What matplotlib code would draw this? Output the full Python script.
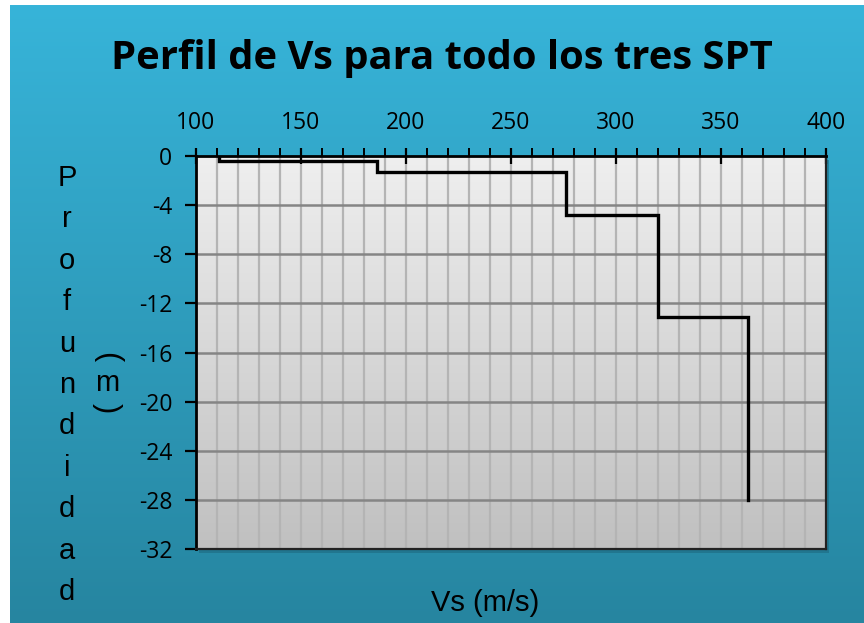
import numpy as np
import matplotlib
matplotlib.use("Agg")
import matplotlib.pyplot as plt
from matplotlib.colors import LinearSegmentedColormap
from matplotlib.ticker import MultipleLocator

plt.rcParams["axes.unicode_minus"] = False

# Data
vs_layers = [111, 186, 276, 320, 363]          # m/s
depth_bounds = [0, -0.4, -1.3, -4.8, -13.1, -28.0]  # m
x_ticks = [100, 150, 200, 250, 300, 350, 400]
y_ticks = [0, -4, -8, -12, -16, -20, -24, -28, -32]

title = "Perfil de Vs para todo los tres SPT"
xlabel = "Vs (m/s)"
ylabel_letters = list("Profundidad")

# build step profile from the layer arrays
px, py = [], []
for i, v in enumerate(vs_layers):
    px += [v, v]
    py += [depth_bounds[i], depth_bounds[i + 1]]

W, H = 864, 623
fig = plt.figure(figsize=(W / 100, H / 100), dpi=100)
fig.patch.set_facecolor("white")

# blue gradient background
bg = fig.add_axes([10 / W, 0, 1 - 10 / W, 1 - 5 / H], zorder=-10)
bg_cmap = LinearSegmentedColormap.from_list("bg", ["#37b4d9", "#2685a0"])
bg.imshow(np.linspace(0, 1, 256).reshape(-1, 1), aspect="auto", cmap=bg_cmap,
          extent=[0, 1, 0, 1], origin="upper")
bg.set_axis_off()

L, R, T, B = 196, 826, 156, 549
ax = fig.add_axes([L / W, 1 - B / H, (R - L) / W, (B - T) / H])

# shadow
sh = fig.add_axes([(L + 3) / W, 1 - (B + 4) / H, (R - L) / W, (B - T) / H], zorder=-5)
sh.set_facecolor("#1d6a80")
sh.patch.set_alpha(0.6)
sh.set_xticks([]); sh.set_yticks([])
for s in sh.spines.values():
    s.set_visible(False)

plot_cmap = LinearSegmentedColormap.from_list("pl", ["#efefef", "#c0c0c0"])
ax.imshow(np.linspace(0, 1, 256).reshape(-1, 1), aspect="auto", cmap=plot_cmap,
          extent=[100, 400, -32, 0], origin="upper", zorder=0)

ax.set_xlim(100, 400)
ax.set_ylim(-32, 0)
ax.xaxis.tick_top()
ax.set_xticks(x_ticks)
ax.set_yticks(y_ticks)
ax.xaxis.set_minor_locator(MultipleLocator(10))

for xv in np.arange(110, 400, 10):
    ax.axvline(xv, color="#b4b4b4", lw=1.6, zorder=1)
for yv in y_ticks[1:-1]:
    ax.axhline(yv, color="#858585", lw=1.8, zorder=1.1)

ax.plot(px, py, color="black", lw=2.4, zorder=3, solid_joinstyle="miter")

tick_font = "Open Sans"
ax.tick_params(axis="x", which="major", direction="inout", length=12, width=1.6,
               pad=9, labelsize=16.5, colors="black")
ax.tick_params(axis="x", which="minor", direction="out", length=6, width=1.4)
ax.tick_params(axis="y", which="major", direction="out", length=8, width=1.6,
               pad=9, labelsize=16.5)
for lab in ax.get_xticklabels() + ax.get_yticklabels():
    lab.set_fontfamily(tick_font)

for side in ["left", "top"]:
    ax.spines[side].set_linewidth(2.0)
for side in ["right", "bottom"]:
    ax.spines[side].set_linewidth(1.6)
    ax.spines[side].set_color("#222222")

fig.text(442 / W, 1 - 58 / H, title, ha="center", va="center",
         fontsize=28.8, fontweight="bold", fontfamily="Open Sans", color="black")
fig.text(485 / W, 1 - 603 / H, xlabel, ha="center", va="center",
         fontsize=21, fontfamily="Liberation Sans", color="black")

y0, dy = 178, 41.4
for i, ch in enumerate(ylabel_letters):
    fig.text(67 / W, 1 - (y0 + i * dy) / H, ch, ha="center", va="center",
             fontsize=21, fontfamily="Liberation Sans", color="black")
fig.text(107 / W, 1 - 357 / H, "(", ha="center", va="center", rotation=-90,
         rotation_mode="anchor", fontsize=22, fontfamily="Liberation Sans")
fig.text(107 / W, 1 - 383 / H, "m", ha="center", va="center",
         fontsize=21, fontfamily="Liberation Sans")
fig.text(107 / W, 1 - 408 / H, ")", ha="center", va="center", rotation=-90,
         rotation_mode="anchor", fontsize=22, fontfamily="Liberation Sans")

fig.savefig("out.png", dpi=100)
